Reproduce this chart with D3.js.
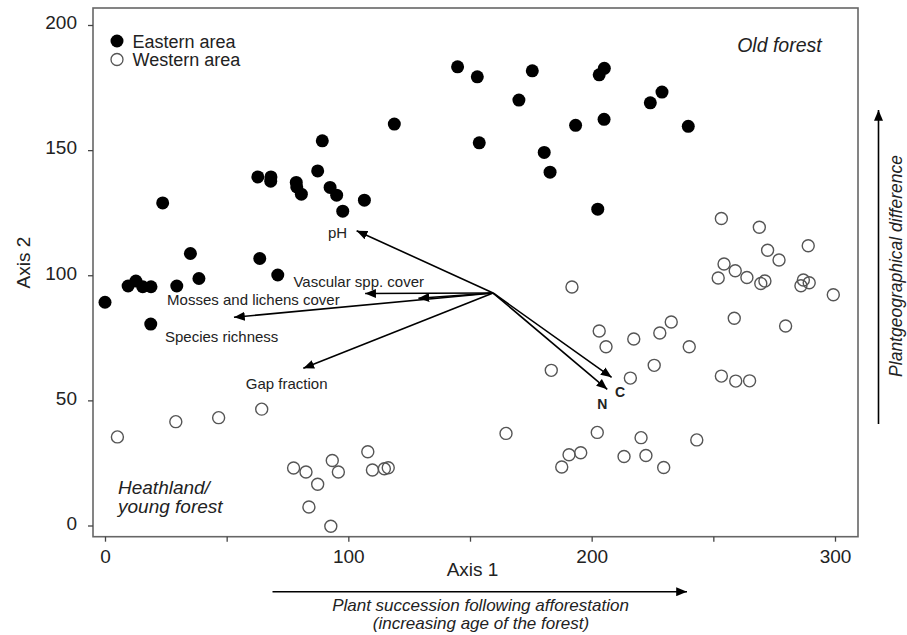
<!DOCTYPE html>
<html>
<head>
<meta charset="utf-8">
<script src="https://cdn.jsdelivr.net/npm/d3@7"></script>
<style>
  html, body { margin: 0; padding: 0; background: #fff; }
  svg { display: block; font-family: "Liberation Sans", Arial, sans-serif; }
</style>
</head>
<body>
<svg id="chart" width="907" height="635"></svg>
<script>
// ---- Data ----
const easternArea = [
  [118.9,160.4],[89.3,153.7],[87.4,141.7],[62.8,139.3],[68.2,139.3],[68.1,137.6],
  [78.6,137.1],[78.8,135.3],[80.7,132.4],[92.5,135.1],[95.2,132.0],[97.7,125.6],
  [106.6,130.0],[23.7,128.9],[35.1,108.7],[63.6,106.7],[71.0,100.1],[38.6,98.7],
  [29.5,95.7],[9.5,95.7],[12.7,97.7],[15.5,95.4],[18.9,95.4],[0.0,89.2],[18.8,80.5],
  [144.9,183.3],[153.0,179.3],[175.6,181.7],[170.1,170.0],[153.8,152.9],[193.4,159.9],
  [180.5,149.1],[182.9,141.2],[205.2,182.7],[203.1,180.1],[205.1,162.3],[202.5,126.4],
  [224.1,168.9],[228.9,173.2],[239.7,159.5]
];
const westernArea = [
  [253.3,122.7],[268.9,119.2],[272.3,110.0],[277.0,106.1],[289.0,111.8],[254.4,104.5],
  [259.0,101.8],[252.0,98.9],[263.8,99.1],[269.5,96.7],[271.2,97.7],[286.0,95.8],
  [287.0,98.1],[289.4,97.0],[299.3,92.2],[191.9,95.3],
  [258.6,82.8],[279.7,79.7],[203.1,77.7],[205.9,71.4],[217.3,74.5],[228.0,76.9],
  [232.7,81.3],[240.1,71.4],[225.7,64.0],[215.9,58.9],[183.4,62.0],[253.3,59.7],
  [259.2,57.7],[264.9,57.8],[164.8,36.8],[202.3,37.2],[220.3,35.1],[243.2,34.2],
  [195.5,29.1],[190.7,28.3],[187.7,23.4],[213.3,27.6],[222.3,28.0],[229.6,23.2],
  [5.1,35.4],[29.1,41.5],[46.7,43.1],[64.4,46.5],[77.5,23.0],[82.6,21.4],
  [87.4,16.5],[83.8,7.4],[92.8,-0.3],[93.4,26.0],[95.9,21.4],[108.0,29.5],
  [109.9,22.2],[114.8,22.7],[116.4,23.1]
];
const vectorOrigin = [159.5, 92.9];
const vectorNames = ["pH","Vascular spp. cover","Mosses and lichens cover","Species richness","Gap fraction","C","N"];
const vectorTipX  = [103.4, 128.8, 106.9, 53.0, 81.5, 208.2, 206.4];
const vectorTipY  = [117.8,  90.8,  92.7, 83.2, 62.8,  59.2,  54.4];
const xTickValues = [0, 50, 100, 150, 200, 250, 300];
const xTickLabels = ["0", "", "100", "", "200", "", "300"];
const yTickValues = [0, 50, 100, 150, 200];
const legendLabels = ["Eastern area", "Western area"];

// ---- Scales ----
const svg = d3.select("#chart");
const x = d3.scaleLinear().domain([0, 300]).range([105, 835]);
const y = d3.scaleLinear().domain([0, 200]).range([525.5, 25]);
const frame = { left: 93, right: 858, top: 8, bottom: 536.7 };

// ---- Frame ----
svg.append("rect")
  .attr("x", frame.left).attr("y", frame.top)
  .attr("width", frame.right - frame.left).attr("height", frame.bottom - frame.top)
  .attr("fill", "none").attr("stroke", "#666").attr("stroke-width", 1.6);

// ---- Axes ----
const yAxis = d3.axisLeft(y).tickValues(yTickValues).tickSize(5).tickPadding(11).tickFormat(d3.format("d"));
const gy = svg.append("g").attr("transform", `translate(${frame.left},0)`).call(yAxis);
gy.select(".domain").remove();
gy.selectAll("line").attr("stroke", "#444").attr("stroke-width", 1.3);
gy.selectAll("text").attr("font-size", 19).attr("fill", "#222").attr("dy", "0.2em")
  .attr("font-family", "Liberation Sans, Arial, sans-serif");

const xAxis = d3.axisBottom(x).tickValues(xTickValues).tickSize(5).tickPadding(8.3)
  .tickFormat((d, i) => xTickLabels[i]);
const gx = svg.append("g").attr("transform", `translate(0,${frame.bottom})`).call(xAxis);
gx.select(".domain").remove();
gx.selectAll("line").attr("stroke", "#444").attr("stroke-width", 1.3);
gx.selectAll("text").attr("font-size", 19).attr("fill", "#222")
  .attr("font-family", "Liberation Sans, Arial, sans-serif");

svg.append("text").attr("x", 472.5).attr("y", 576).attr("text-anchor", "middle")
  .attr("font-size", 19).attr("fill", "#222").text("Axis 1");
svg.append("text").attr("transform", "translate(29.5,262.5) rotate(-90)").attr("text-anchor", "middle")
  .attr("font-size", 19).attr("fill", "#222").text("Axis 2");

// ---- Points ----
svg.append("g").selectAll("circle").data(westernArea).join("circle")
  .attr("cx", d => x(d[0])).attr("cy", d => y(d[1])).attr("r", 6)
  .attr("fill", "none").attr("stroke", "#555").attr("stroke-width", 1.4);
svg.append("g").selectAll("circle").data(easternArea).join("circle")
  .attr("cx", d => x(d[0])).attr("cy", d => y(d[1])).attr("r", 6.5)
  .attr("fill", "#000");

// ---- Arrow markers ----
const defs = svg.append("defs");
defs.append("marker").attr("id", "head").attr("markerUnits", "userSpaceOnUse")
  .attr("viewBox", "0 0 12 10").attr("refX", 12).attr("refY", 5)
  .attr("markerWidth", 11).attr("markerHeight", 9).attr("orient", "auto")
  .append("path").attr("d", "M0,0 L12,5 L0,10 Z").attr("fill", "#000");
defs.append("marker").attr("id", "headBig").attr("markerUnits", "userSpaceOnUse")
  .attr("viewBox", "0 0 12 10").attr("refX", 12).attr("refY", 5)
  .attr("markerWidth", 12).attr("markerHeight", 9).attr("orient", "auto")
  .append("path").attr("d", "M0,0 L12,5 L0,10 Z").attr("fill", "#000");

// ---- Biplot vectors ----
const vectors = vectorNames.map((n, i) => ({ name: n, tx: vectorTipX[i], ty: vectorTipY[i] }));
svg.append("g").selectAll("line").data(vectors).join("line")
  .attr("x1", x(vectorOrigin[0])).attr("y1", y(vectorOrigin[1]))
  .attr("x2", d => x(d.tx)).attr("y2", d => y(d.ty))
  .attr("stroke", "#000").attr("stroke-width", 1.6)
  .attr("marker-end", "url(#head)");

// label placement (pixel offsets from the arrow tip)
const labelOffset = {
  "pH": { dx: -19, dy: 7.5, anchor: "middle", weight: "normal" },
  "Vascular spp. cover": { dx: -125, dy: -11.5, anchor: "start", weight: "normal" },
  "Mosses and lichens cover": { dx: -198, dy: 11.5, anchor: "start", weight: "normal" },
  "Species richness": { dx: -69, dy: 25, anchor: "start", weight: "normal" },
  "Gap fraction": { dx: -57.5, dy: 21, anchor: "start", weight: "normal" },
  "C": { dx: 3.5, dy: 19.5, anchor: "start", weight: "bold" },
  "N": { dx: -10, dy: 20, anchor: "start", weight: "bold" }
};
svg.append("g").selectAll("text").data(vectors).join("text")
  .attr("x", d => x(d.tx) + labelOffset[d.name].dx)
  .attr("y", d => y(d.ty) + labelOffset[d.name].dy)
  .attr("text-anchor", d => labelOffset[d.name].anchor)
  .attr("font-weight", d => labelOffset[d.name].weight)
  .attr("font-size", d => (d.name.length === 1 ? 14 : 15))
  .attr("fill", "#222")
  .text(d => d.name);

// ---- Legend ----
const legend = svg.append("g");
legendLabels.forEach((lab, i) => {
  const cy = 41 + i * 18.5;
  const c = legend.append("circle").attr("cx", 117).attr("cy", cy);
  if (i === 0) c.attr("r", 6.5).attr("fill", "#000");
  else c.attr("r", 6).attr("fill", "none").attr("stroke", "#555").attr("stroke-width", 1.3);
  legend.append("text").attr("x", 132.5).attr("y", cy + 6.6)
    .attr("font-size", 18).attr("fill", "#222").text(lab);
});

// ---- Annotations ----
svg.append("text").attr("x", 821.7).attr("y", 51.7).attr("text-anchor", "end")
  .attr("font-style", "italic").attr("font-size", 19.5).attr("fill", "#222").text("Old forest");
svg.append("text").attr("x", 118).attr("y", 494).attr("font-style", "italic")
  .attr("font-size", 19).attr("fill", "#222").text("Heathland/");
svg.append("text").attr("x", 118).attr("y", 513).attr("font-style", "italic")
  .attr("font-size", 19).attr("fill", "#222").text("young forest");

// bottom arrow and text
svg.append("line").attr("x1", 272.5).attr("y1", 591.7).attr("x2", 687).attr("y2", 591.7)
  .attr("stroke", "#000").attr("stroke-width", 1.6).attr("marker-end", "url(#headBig)");
svg.append("text").attr("x", 480.5).attr("y", 610.5).attr("text-anchor", "middle")
  .attr("font-style", "italic").attr("font-size", 17).attr("fill", "#222")
  .text("Plant succession following afforestation");
svg.append("text").attr("x", 481).attr("y", 629).attr("text-anchor", "middle")
  .attr("font-style", "italic").attr("font-size", 17).attr("fill", "#222")
  .text("(increasing age of the forest)");

// right arrow and text
svg.append("line").attr("x1", 878.5).attr("y1", 424).attr("x2", 878.5).attr("y2", 110)
  .attr("stroke", "#000").attr("stroke-width", 1.6).attr("marker-end", "url(#headBig)");
svg.append("text").attr("transform", "translate(902,266) rotate(-90)").attr("text-anchor", "middle")
  .attr("font-style", "italic").attr("font-size", 17.5).attr("fill", "#222")
  .text("Plantgeographical difference");
</script>
</body>
</html>
